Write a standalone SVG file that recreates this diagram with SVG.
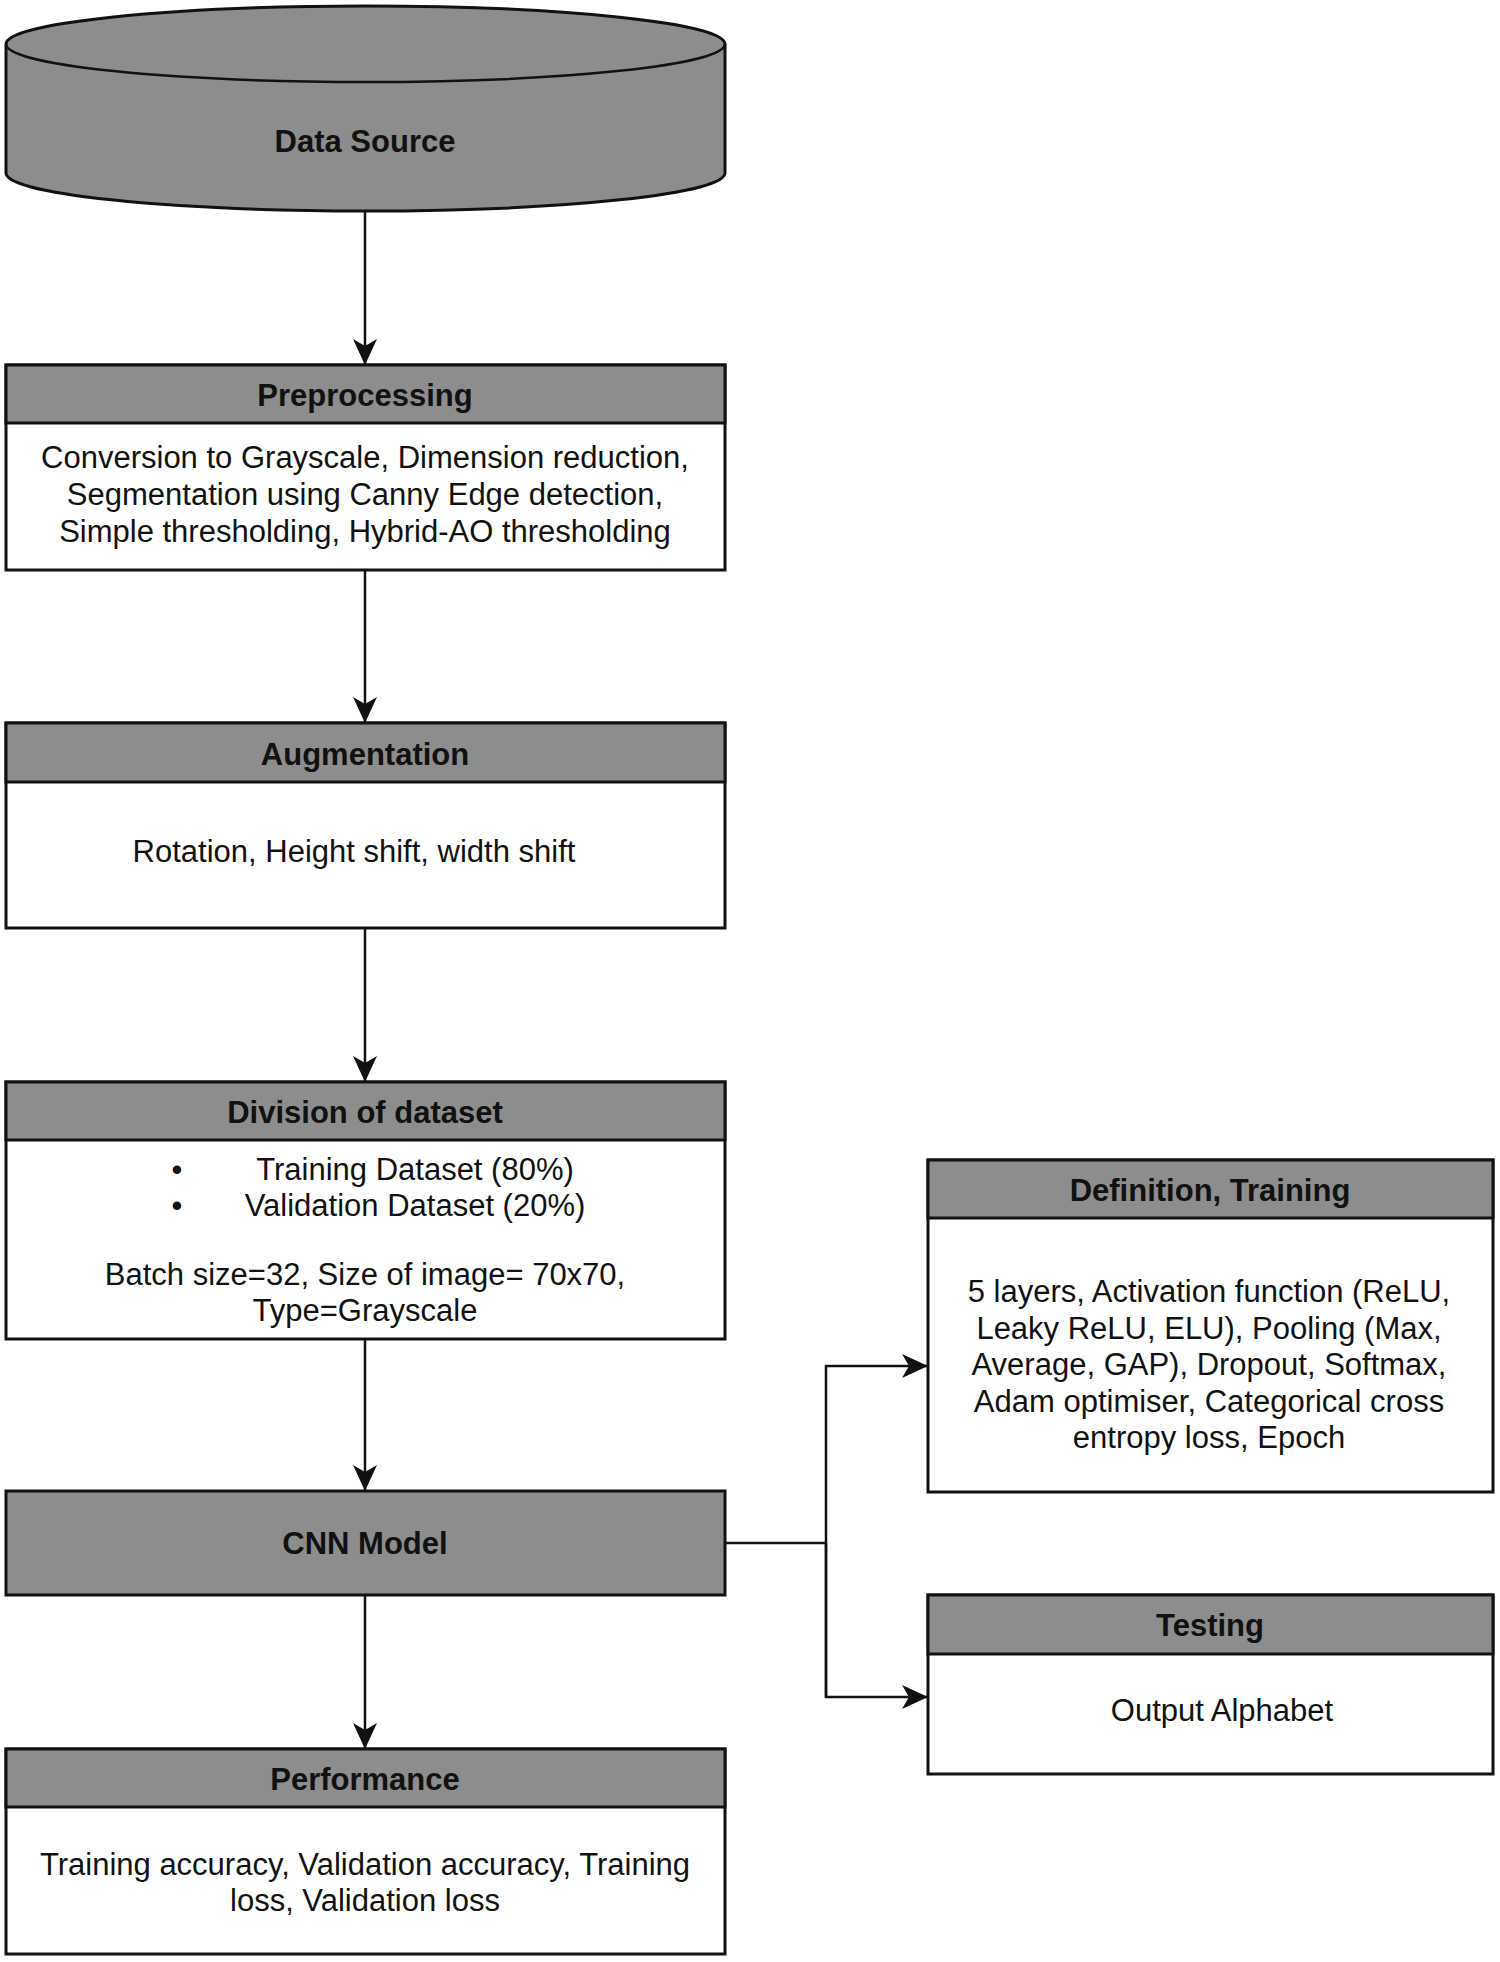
<svg xmlns="http://www.w3.org/2000/svg" width="1500" height="1962" viewBox="0 0 1500 1962">
<style>
.bg{fill:#ffffff}
.hd{fill:#8d8d8d;stroke:#111;stroke-width:3}
.bd{fill:#ffffff;stroke:#111;stroke-width:3}
.ht{font-family:"Liberation Sans",Arial,sans-serif;font-weight:bold;font-size:31px;fill:#111;text-anchor:middle;dominant-baseline:central}
.tx{font-family:"Liberation Sans",Arial,sans-serif;font-size:31px;fill:#111;text-anchor:middle;dominant-baseline:central}
.cn{fill:none;stroke:#111;stroke-width:2.5}
</style>
<defs>
<marker id="arr" markerUnits="userSpaceOnUse" markerWidth="30" markerHeight="28" refX="26" refY="12" orient="auto">
<path d="M0,0 L26,12 L0,24 L7,12 Z" fill="#111"/>
</marker>
</defs>
<rect class="bg" x="0" y="0" width="1500" height="1962"/>

<g id="connectors">
<line class="cn" x1="365" y1="211" x2="365" y2="365" marker-end="url(#arr)"/>
<line class="cn" x1="365" y1="570" x2="365" y2="723" marker-end="url(#arr)"/>
<line class="cn" x1="365" y1="928" x2="365" y2="1082" marker-end="url(#arr)"/>
<line class="cn" x1="365" y1="1339" x2="365" y2="1491" marker-end="url(#arr)"/>
<line class="cn" x1="365" y1="1595" x2="365" y2="1749" marker-end="url(#arr)"/>
<polyline class="cn" points="725,1543 826,1543"/>
<polyline class="cn" points="826,1697 826,1366 928,1366" marker-end="url(#arr)"/>
<polyline class="cn" points="826,1543 826,1697 928,1697" marker-end="url(#arr)"/>
</g>

<g id="data-source">
<path class="hd" d="M6,44 L6,173 A359.5,38 0 0 0 725,173 L725,44 A359.5,38 0 0 0 6,44 Z"/>
<path class="cn" stroke-width="3" d="M6,44 A359.5,38 0 0 0 725,44"/>
<text class="ht" x="365" y="141">Data Source</text>
</g>

<g id="preprocessing">
<rect class="bd" x="6" y="365" width="719" height="205"/>
<rect class="hd" x="6" y="365" width="719" height="58"/>
<text class="ht" x="365" y="395">Preprocessing</text>
<text class="tx" x="365" y="457">Conversion to Grayscale, Dimension reduction,</text>
<text class="tx" x="365" y="494">Segmentation using Canny Edge detection,</text>
<text class="tx" x="365" y="531">Simple thresholding, Hybrid-AO thresholding</text>
</g>

<g id="augmentation">
<rect class="bd" x="6" y="723" width="719" height="205"/>
<rect class="hd" x="6" y="723" width="719" height="59"/>
<text class="ht" x="365" y="754">Augmentation</text>
<text class="tx" x="354" y="851">Rotation, Height shift, width shift</text>
</g>

<g id="division">
<rect class="bd" x="6" y="1082" width="719" height="257"/>
<rect class="hd" x="6" y="1082" width="719" height="58"/>
<text class="ht" x="365" y="1112">Division of dataset</text>
<text class="tx" x="177" y="1169">•</text>
<text class="tx" x="415" y="1169">Training Dataset (80%)</text>
<text class="tx" x="177" y="1205">•</text>
<text class="tx" x="415" y="1205">Validation Dataset (20%)</text>
<text class="tx" x="365" y="1274">Batch size=32, Size of image= 70x70,</text>
<text class="tx" x="365" y="1310">Type=Grayscale</text>
</g>

<g id="cnn-model">
<rect class="hd" x="6" y="1491" width="719" height="104"/>
<text class="ht" x="365" y="1543">CNN Model</text>
</g>

<g id="performance">
<rect class="bd" x="6" y="1749" width="719" height="205"/>
<rect class="hd" x="6" y="1749" width="719" height="58"/>
<text class="ht" x="365" y="1779">Performance</text>
<text class="tx" x="365" y="1864">Training accuracy, Validation accuracy, Training</text>
<text class="tx" x="365" y="1900">loss, Validation loss</text>
</g>

<g id="definition-training">
<rect class="bd" x="928" y="1160" width="565" height="332"/>
<rect class="hd" x="928" y="1160" width="565" height="58"/>
<text class="ht" x="1210" y="1190">Definition, Training</text>
<text class="tx" x="1209" y="1291">5 layers, Activation function (ReLU,</text>
<text class="tx" x="1209" y="1328">Leaky ReLU, ELU), Pooling (Max,</text>
<text class="tx" x="1209" y="1364">Average, GAP), Dropout, Softmax,</text>
<text class="tx" x="1209" y="1401">Adam optimiser, Categorical cross</text>
<text class="tx" x="1209" y="1437">entropy loss, Epoch</text>
</g>

<g id="testing">
<rect class="bd" x="928" y="1595" width="565" height="179"/>
<rect class="hd" x="928" y="1595" width="565" height="59"/>
<text class="ht" x="1210" y="1625">Testing</text>
<text class="tx" x="1222" y="1710">Output Alphabet</text>
</g>
</svg>
